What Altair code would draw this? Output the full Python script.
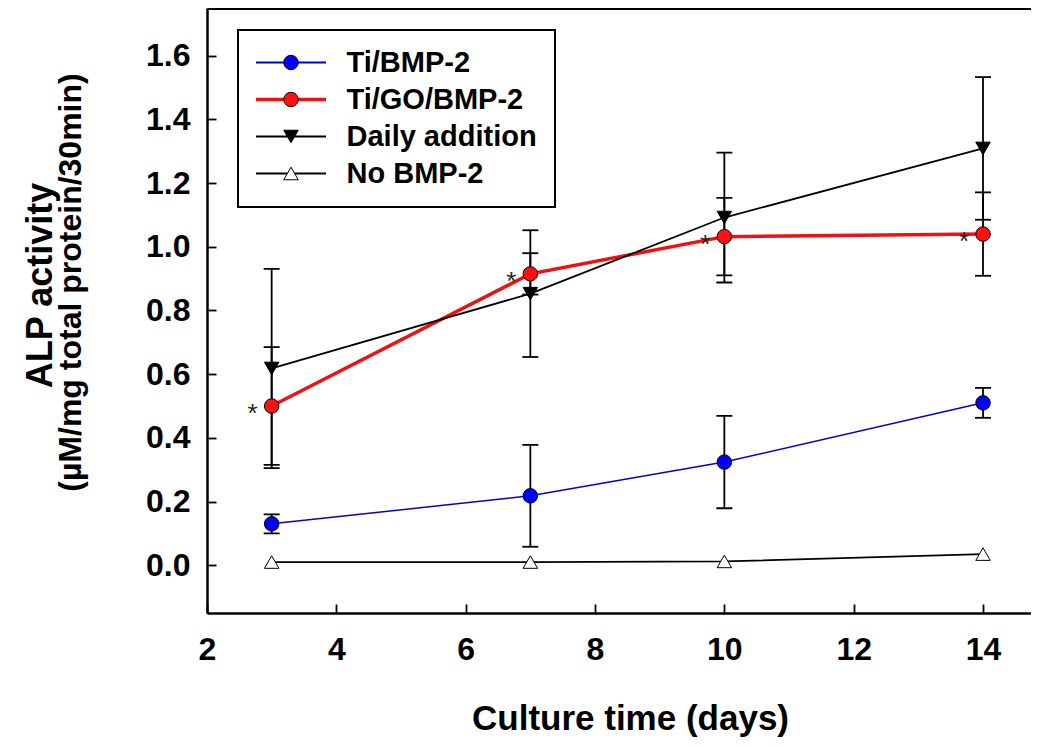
import altair as alt
import pandas as pd

# ---------------- data ----------------
days = [3, 7, 10, 14]
series_names = ["Ti/BMP-2", "Ti/GO/BMP-2", "Daily addition", "No BMP-2"]
ti_bmp2 = [0.13, 0.218, 0.324, 0.51]
ti_bmp2_err = [0.03, 0.16, 0.145, 0.047]
ti_go_bmp2 = [0.50, 0.915, 1.032, 1.04]
ti_go_bmp2_err = [0.185, 0.065, 0.122, 0.131]
daily_addition = [0.618, 0.853, 1.092, 1.309]
daily_addition_err = [0.313, 0.199, 0.204, 0.224]
no_bmp2 = [0.01, 0.01, 0.012, 0.035]

x_ticks = [2, 4, 6, 8, 10, 12, 14]
y_ticks = [0.0, 0.2, 0.4, 0.6, 0.8, 1.0, 1.2, 1.4, 1.6]
x_title = "Culture time (days)"
y_title_line1 = "ALP activity"
y_title_line2 = "(\u00b5M/mg total protein/30min)"

line_colors = ["#0000dd", "#ee1111", "#000000", "#000000"]
line_widths = [1.5, 3.5, 1.8, 1.8]
marker_fills = ["#0000ff", "#ff1111", "#000000", "#ffffff"]
marker_shapes = ["circle", "circle", "triangle-down", "triangle-up"]
marker_strokes = ["#000000", "#000000", "#000000", "#000000"]

# ---------------- tables ----------------
values_by_series = [ti_bmp2, ti_go_bmp2, daily_addition, no_bmp2]
errs_by_series = [ti_bmp2_err, ti_go_bmp2_err, daily_addition_err, None]

rows = []
err_rows = []
for i, (name, vals, errs) in enumerate(zip(series_names, values_by_series, errs_by_series)):
    for j, d in enumerate(days):
        rows.append({"day": d, "value": vals[j], "series": name,
                     "lw": line_widths[i], "order": i + 1})
        if errs is not None:
            err_rows.append({"day": d, "lo": vals[j] - errs[j], "hi": vals[j] + errs[j],
                             "series": name})
df = pd.DataFrame(rows)
df_err = pd.DataFrame(err_rows)
df_star = df[df["series"] == "Ti/GO/BMP-2"]

F = "Liberation Sans, Arial, Helvetica, sans-serif"
W, H = 824, 605

xscale = alt.Scale(domain=[2, 14.742], nice=False, zero=False)
yscale = alt.Scale(domain=[-0.15, 1.75], nice=False, zero=False)

main_x_axis = alt.Axis(
    orient="bottom", values=x_ticks, format="d",
    labelFont=F, labelFontSize=32, labelFontWeight="bold", labelColor="black",
    labelPadding=21, labelFlush=False, labelOverlap=False,
    ticks=False, tickSize=0, domain=True, domainColor="black", domainWidth=2.5,
    grid=False, title=x_title, titleFont=F, titleFontSize=35, titleFontWeight="bold",
    titleColor="black", titleX=423, titleY=116, titleBaseline="alphabetic",
    titleAlign="center")
main_y_axis = alt.Axis(
    orient="left", values=y_ticks, format=".1f",
    labelFont=F, labelFontSize=32, labelFontWeight="bold", labelColor="black",
    labelPadding=17, labelFlush=False, labelOverlap=False,
    ticks=False, tickSize=0, domain=True, domainColor="black", domainWidth=2.5,
    grid=False, title=y_title_line2, titleFont=F, titleFontSize=32, titleFontWeight="bold",
    titleColor="black", titleX=-127, titleY=274, titleAngle=270,
    titleBaseline="alphabetic", titleAlign="center")
y_title_axis = alt.Axis(
    orient="left", labels=False, ticks=False, domain=False, grid=False,
    title=y_title_line1, titleFont=F, titleFontSize=36, titleFontWeight="bold",
    titleColor="black", titleX=-156, titleY=277, titleAngle=270,
    titleBaseline="alphabetic", titleAlign="center")

# inward ticks: axes pushed inside the plot with a negative offset
tick_x_axis = alt.Axis(orient="top", offset=-H, values=x_ticks, ticks=True, tickSize=9,
                       tickWidth=1.8, tickColor="black", labels=False, domain=False,
                       grid=False, title=None)
tick_y_axis = alt.Axis(orient="right", offset=-W, values=y_ticks, ticks=True, tickSize=9,
                       tickWidth=1.8, tickColor="black", labels=False, domain=False,
                       grid=False, title=None)
# top frame line
top_axis = alt.Axis(orient="bottom", offset=-H, ticks=False, labels=False, domain=True,
                    domainColor="black", domainWidth=3, grid=False, title=None)

line_legend = alt.Legend(
    orient="none", legendX=31, legendY=22, title=None, direction="vertical",
    padding=18, rowPadding=7, strokeColor="black", fillColor="white",
    labelFont=F, labelFontSize=29, labelFontWeight="bold", labelColor="black",
    labelLimit=400, labelOffset=41,
    symbolType="M-2.8,0H2.8", symbolSize=625, symbolOffset=20.5,
    symbolStrokeWidth={"expr": "(datum.value === 'Ti/GO/BMP-2') ? 3.5 : 1.8"})
marker_legend = alt.Legend(
    orient="none", legendX=31, legendY=22, title=None, direction="vertical",
    padding=18, rowPadding=7,
    labelFont=F, labelFontSize=29, labelFontWeight="bold", labelOpacity=0,
    labelExpr="' '", labelLimit=400, labelOffset=41,
    symbolSize=210, symbolOffset=20.5, symbolStrokeColor="black",
    symbolStrokeWidth=1, symbolOpacity=1)

noax_x = alt.X("day:Q", scale=xscale, axis=None)

lines = alt.Chart(df).mark_line().encode(
    x=alt.X("day:Q", scale=xscale, axis=main_x_axis),
    y=alt.Y("value:Q", scale=yscale, axis=main_y_axis),
    color=alt.Color("series:N", scale=alt.Scale(domain=series_names, range=line_colors),
                    legend=line_legend),
    strokeWidth=alt.StrokeWidth("lw:Q", scale=None),
)

rules = alt.Chart(df_err).mark_rule(color="black", strokeWidth=1.8).encode(
    x=alt.X("day:Q", scale=xscale, axis=tick_x_axis),
    y=alt.Y("lo:Q", scale=yscale, axis=tick_y_axis),
    y2="hi:Q",
)

caps_lo = alt.Chart(df_err).mark_tick(orient="horizontal", size=16, thickness=1.8,
                                      color="black", opacity=1).encode(
    x=alt.X("day:Q", scale=xscale, axis=top_axis),
    y=alt.Y("lo:Q", scale=yscale, axis=None),
)
caps_hi = alt.Chart(df_err).mark_tick(orient="horizontal", size=16, thickness=1.8,
                                      color="black", opacity=1).encode(
    x=noax_x,
    y=alt.Y("hi:Q", scale=yscale, axis=y_title_axis),
)

points = alt.Chart(df).mark_point(filled=True, strokeWidth=1,
                                  size=210, opacity=1).encode(
    x=noax_x,
    y=alt.Y("value:Q", scale=yscale, axis=None),
    fill=alt.Fill("order:N", scale=alt.Scale(domain=[1, 2, 3, 4], range=marker_fills),
                  legend=marker_legend),
    shape=alt.Shape("order:N", scale=alt.Scale(domain=[1, 2, 3, 4], range=marker_shapes),
                    legend=marker_legend),
    stroke=alt.Stroke("order:N", scale=alt.Scale(domain=[1, 2, 3, 4], range=marker_strokes),
                      legend=marker_legend),
)

stars = alt.Chart(df_star).mark_text(text="*", font=F, fontSize=26, color="#222222",
                                     dx=-19, dy=16, baseline="alphabetic",
                                     align="center").encode(
    x=noax_x,
    y=alt.Y("value:Q", scale=yscale, axis=None),
)

chart = alt.layer(lines, rules, caps_lo, caps_hi, points, stars).resolve_axis(
    x="independent", y="independent"
).properties(
    width=W, height=H,
    padding={"left": 199, "top": 0, "right": 0, "bottom": 125},
    autosize=alt.AutoSizeParams(type="none"),
    background="white",
).configure_view(strokeWidth=0).configure_legend(strokeWidth=2)

chart.save("out.html", embed_options={"renderer": "svg", "actions": False})
